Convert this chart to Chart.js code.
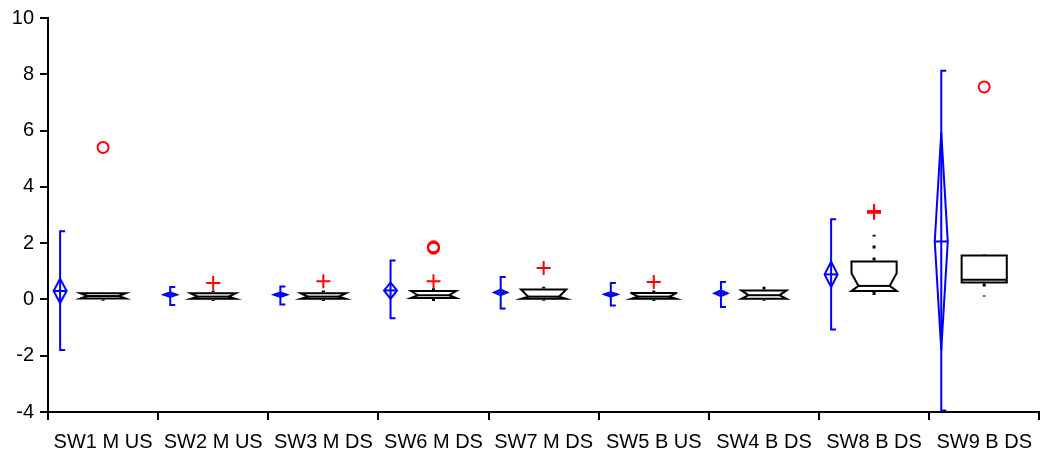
<!DOCTYPE html>
<html>
<head>
<meta charset="utf-8">
<script src="https://cdn.jsdelivr.net/npm/chart.js@4"></script>
<style>
  body { margin: 0; background: #fff; }
</style>
</head>
<body>
<canvas id="boxChart" width="1042" height="459"></canvas>
<script>
// categories
var categories = ["SW1 M US", "SW2 M US", "SW3 M DS", "SW6 M DS", "SW7 M DS", "SW5 B US", "SW4 B DS", "SW8 B DS", "SW9 B DS"];

// mean +- interval (blue)
var means      = [0.30, 0.17, 0.17, 0.32, 0.25, 0.18, 0.22, 0.89, 2.06];
var meanCiLow  = [-0.13, 0.09, 0.09, 0.02, 0.15, 0.10, 0.12, 0.44, -1.80];
var meanCiHigh = [0.74, 0.25, 0.25, 0.60, 0.35, 0.26, 0.32, 1.34, 5.94];
var rangeLow   = [-1.80, -0.20, -0.18, -0.67, -0.32, -0.22, -0.27, -1.07, -3.95];
var rangeHigh  = [2.42, 0.44, 0.46, 1.38, 0.80, 0.58, 0.62, 2.85, 8.13];

// box plot (black)
var whiskerLow  = [-0.05, -0.06, -0.06, -0.06, -0.05, -0.06, -0.05, 0.10, 0.10];
var quartile1   = [0.03, 0.02, 0.02, 0.05, 0.02, 0.02, 0.02, 0.30, 0.60];
var medians     = [0.12, 0.10, 0.10, 0.15, 0.10, 0.10, 0.15, 0.48, 0.70];
var quartile3   = [0.22, 0.22, 0.22, 0.30, 0.35, 0.23, 0.32, 1.35, 1.56];
var whiskerHigh = [0.26, 0.32, 0.32, 0.40, 0.45, 0.32, 0.45, 2.30, 1.56];
var notchHalf   = [0.15, 0.12, 0.12, 0.15, 0.30, 0.12, 0.17, 0.45, 0];

// outliers
var plusOutliers = [
  { x: "SW2 M US", y: 0.58 }, { x: "SW3 M DS", y: 0.65 }, { x: "SW6 M DS", y: 0.65 },
  { x: "SW7 M DS", y: 1.12 }, { x: "SW5 B US", y: 0.62 },
  { x: "SW8 B DS", y: 3.08 }, { x: "SW8 B DS", y: 3.14 }
];
var circleOutliers = [
  { x: "SW1 M US", y: 5.40 }, { x: "SW6 M DS", y: 1.82 }, { x: "SW6 M DS", y: 1.87 },
  { x: "SW9 B DS", y: 7.55 }
];

var yTicks = { min: -4, max: 10, step: 2 };

var boxPlugin = {
  id: 'boxes',
  beforeDatasetsDraw: function(chart) {
    var ctx = chart.ctx;
    var xs = chart.scales.x, ys = chart.scales.y;
    var w = xs.getPixelForValue(1) - xs.getPixelForValue(0);
    ctx.save();
    for (var i = 0; i < categories.length; i++) {
      var cx = xs.getPixelForValue(i);

      // blue range bar + mean diamond
      var bx = cx - w * 0.39;
      ctx.strokeStyle = '#0000ff';
      ctx.lineWidth = 2;
      ctx.beginPath();
      ctx.moveTo(bx + 5, ys.getPixelForValue(rangeHigh[i]));
      ctx.lineTo(bx, ys.getPixelForValue(rangeHigh[i]));
      ctx.lineTo(bx, ys.getPixelForValue(rangeLow[i]));
      ctx.lineTo(bx + 5, ys.getPixelForValue(rangeLow[i]));
      ctx.stroke();
      var dm = 6.5;
      var ym = ys.getPixelForValue(means[i]);
      ctx.beginPath();
      ctx.moveTo(bx, ys.getPixelForValue(meanCiHigh[i]));
      ctx.lineTo(bx + dm, ym);
      ctx.lineTo(bx, ys.getPixelForValue(meanCiLow[i]));
      ctx.lineTo(bx - dm, ym);
      ctx.closePath();
      ctx.stroke();
      ctx.beginPath();
      ctx.moveTo(bx - dm, ym);
      ctx.lineTo(bx + dm, ym);
      ctx.stroke();

      // black notched box
      var L = cx - w * 0.205, R = cx + w * 0.205;
      var q1 = quartile1[i], q3 = quartile3[i], md = medians[i], h = notchHalf[i];
      var inset = h > 0 ? 7 : 0;
      var nHi = Math.min(q3, md + h), nLo = Math.max(q1, md - h);
      ctx.strokeStyle = '#000';
      ctx.lineWidth = 2;
      ctx.lineJoin = 'miter';
      ctx.beginPath();
      ctx.moveTo(L, ys.getPixelForValue(q3));
      ctx.lineTo(L, ys.getPixelForValue(nHi));
      ctx.lineTo(L + inset, ys.getPixelForValue(md));
      ctx.lineTo(L, ys.getPixelForValue(nLo));
      ctx.lineTo(L, ys.getPixelForValue(q1));
      ctx.lineTo(R, ys.getPixelForValue(q1));
      ctx.lineTo(R, ys.getPixelForValue(nLo));
      ctx.lineTo(R - inset, ys.getPixelForValue(md));
      ctx.lineTo(R, ys.getPixelForValue(nHi));
      ctx.lineTo(R, ys.getPixelForValue(q3));
      ctx.closePath();
      ctx.stroke();
      ctx.beginPath();
      ctx.moveTo(L + inset, ys.getPixelForValue(md));
      ctx.lineTo(R - inset, ys.getPixelForValue(md));
      ctx.stroke();

      // dotted whiskers
      ctx.lineWidth = 3;
      ctx.setLineDash([3, 9]);
      ctx.beginPath();
      ctx.moveTo(cx, ys.getPixelForValue(q3) - 1);
      ctx.lineTo(cx, ys.getPixelForValue(whiskerHigh[i]));
      ctx.moveTo(cx, ys.getPixelForValue(q1) + 1);
      ctx.lineTo(cx, ys.getPixelForValue(whiskerLow[i]));
      ctx.stroke();
      ctx.setLineDash([]);
    }
    ctx.restore();
  }
};

var ctx = document.getElementById("boxChart").getContext('2d');
var myChart = new Chart(ctx, {
  type: 'line',
  data: {
    labels: categories,
    datasets: [{
      data: plusOutliers,
      showLine: false,
      pointStyle: 'cross',
      pointRadius: 7,
      borderColor: '#ff0000',
      borderWidth: 2
    }, {
      data: circleOutliers,
      showLine: false,
      pointStyle: 'circle',
      pointRadius: 5.5,
      borderColor: '#ff0000',
      backgroundColor: 'rgba(0,0,0,0)',
      borderWidth: 2
    }]
  },
  options: {
    responsive: false,
    animation: false,
    layout: { autoPadding: false, padding: { top: 17, right: 0, left: 0, bottom: 0 } },
    plugins: { legend: { display: false }, tooltip: { enabled: false } },
    scales: {
      x: {
        type: 'category',
        offset: true,
        border: { color: '#000', width: 2 },
        grid: { offset: true, drawOnChartArea: false, drawTicks: true, tickLength: 8, color: '#000', lineWidth: 2 },
        ticks: { color: '#000', padding: 10, maxRotation: 0, autoSkip: false,
                 font: { family: 'Liberation Sans, Arial', size: 20 } },
        afterFit: function(scale) { scale.height = 47; }
      },
      y: {
        min: yTicks.min,
        max: yTicks.max,
        border: { color: '#000', width: 2 },
        grid: { drawOnChartArea: false, drawTicks: true, tickLength: 8, color: '#000', lineWidth: 2 },
        ticks: { stepSize: yTicks.step, color: '#000', padding: 6,
                 font: { family: 'Liberation Sans, Arial', size: 20 } },
        afterFit: function(scale) { scale.width = 48; }
      }
    }
  },
  plugins: [boxPlugin]
});
</script>
</body>
</html>
